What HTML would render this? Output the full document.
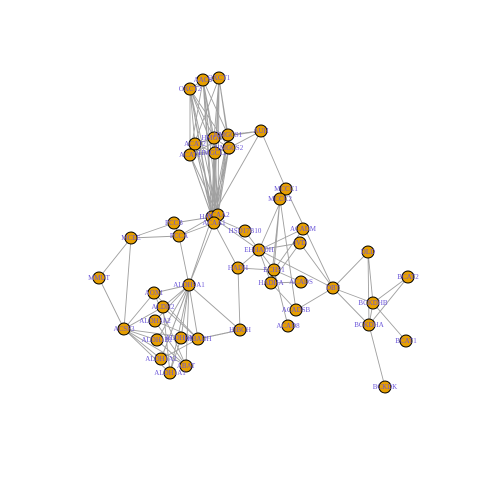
<!DOCTYPE html>
<html><head><meta charset="utf-8"><style>
html,body{margin:0;padding:0;background:#fff;width:480px;height:480px;overflow:hidden}
svg text{font-family:"Liberation Serif",serif;font-size:7px;fill:#6a55d8;text-anchor:middle;dominant-baseline:central}
</style></head><body>
<svg id="net" width="480" height="480" viewBox="0 0 480 480">
<g id="edges"></g>
<g id="nodes"></g>
</svg>
<script>
const names=["AACS","OXCT1","OXCT2","AUH","HMGCL","HMGCS1","ACAT2","ACAT1","HMGCLL1","HMGCS2","HADHB","ACAA2","ACAA1","HSD17B10","PCCB","PCCA","MCEE","MMUT","ALDH9A1","AOX1","ALDH2","ALDH3A2","ACSF3","ALDH1B1","ALDH6A1","HIBADH","ALDH1A2","ABAT","ALDH1A1","HIBCH","HADH","MCCC1","MCCC2","ACADM","IVD","EHHADH","ECHS1","HADHA","ACADS","DBT","DLD","BCAT2","BCKDHB","BCKDHA","BCAT1","BCKDK","ACADSB","ACAD8"];
const xs=[203,219,190,261,214,228,195,190,215,229,212,218,214,245,174,179,131,99,189,154,163,155,124,157,181,198,161,186,170,240,238,286,280,303,300,259,274,271,301,333,368,408,373,369,406,385,296,288];
const ys=[80,78,89,131,138,135,144,155,153,148,217,215,223,231,223,236,238,278,285,293,307,321,329,340,338,339,359,366,373,330,268,189,199,229,243,250,270,283,282,288,252,277,303,325,341,387,310,326];
const edgeFrom=["AACS","AACS","AACS","AACS","AACS","AACS","OXCT1","OXCT1","OXCT1","OXCT1","OXCT1","OXCT2","OXCT2","OXCT2","OXCT2","OXCT2","AUH","AUH","AUH","AUH","HMGCL","HMGCL","HMGCL","HMGCL","HMGCS1","HMGCS1","HMGCS1","ACAT2","ACAT2","ACAT2","ACAT1","ACAT1","ACAT1","HMGCLL1","HMGCLL1","HMGCS2","HMGCS2","HADHB","HADHB","HADHB","HADHB","HADHB","HADHB","ACAA1","ACAA1","ACAA1","PCCB","PCCB","PCCA","PCCA","PCCA","MCEE","MCEE","MMUT","ALDH9A1","ALDH9A1","ALDH9A1","ALDH9A1","ALDH9A1","ALDH9A1","ALDH9A1","ALDH9A1","ALDH9A1","ACSF3","ACSF3","ACSF3","ACSF3","ACSF3","AOX1","AOX1","ALDH2","ALDH2","ALDH3A2","ALDH3A2","ALDH1B1","ALDH6A1","HIBADH","HIBADH","MCCC1","MCCC1","MCCC1","MCCC2","MCCC2","MCCC2","EHHADH","EHHADH","EHHADH","EHHADH","EHHADH","HADH","ECHS1","ECHS1","ECHS1","HADHA","HADHA","DBT","DBT","DBT","DBT","DBT","DLD","DLD","BCKDHB","BCKDHB","BCKDHB","BCKDHA","BCKDHA","ACADM","IVD","HSD17B10","HIBCH",
"AACS","AACS","OXCT1","OXCT1","OXCT2","OXCT2","OXCT2","HMGCL","HMGCL","HMGCS1","HMGCS1","HMGCS1","ACAT2","ACAT2","ACAT1","ACAT1","HMGCLL1","HMGCLL1","HMGCS2","HMGCS2","HMGCS2","AUH","AUH","AACS","OXCT1","ACAT2","HMGCL","ALDH9A1","ALDH9A1","ACSF3","ACSF3","HIBCH","EHHADH"];
const edgeTo=["OXCT1","OXCT2","HMGCL","HMGCS1","ACAT1","HADHB","OXCT2","HMGCS1","HMGCS2","HMGCL","ACAA2","HMGCL","ACAT2","ACAT1","HMGCS2","HMGCLL1","HMGCS1","HMGCS2","HMGCL","MCCC1","HMGCS1","ACAT2","HADHB","HMGCLL1","HMGCS2","ACAT2","ACAA2","ACAT1","HMGCLL1","HADHB","HMGCLL1","HADHB","ACAA1","HMGCS2","ACAA1","HADHB","ACAA2","ACAA2","ACAA1","PCCB","HSD17B10","EHHADH","ALDH9A1","PCCA","ALDH9A1","HADH","PCCA","MCEE","MCEE","ALDH9A1","HADHB","MMUT","ACSF3","ACSF3","AOX1","ALDH2","ALDH3A2","ALDH1B1","ALDH6A1","HIBADH","ALDH1A2","ABAT","ALDH1A1","AOX1","ALDH2","ALDH1B1","HIBADH","ALDH1A1","HIBADH","ABAT","ALDH1A1","HIBADH","HIBADH","ABAT","ABAT","ALDH1A1","HIBCH","ALDH1A2","MCCC2","EHHADH","DBT","HADHA","ECHS1","ACADSB","ECHS1","HADHA","ACADM","IVD","HADH","ECHS1","HADHA","ACADS","ACAD8","ACADSB","ACADS","DLD","BCKDHB","BCKDHA","ACADSB","IVD","BCKDHB","BCKDHA","BCAT2","BCKDHA","BCAT1","BCAT2","BCKDK","ECHS1","HADHA","EHHADH","HIBADH",
"ACAA2","ACAA1","HADHB","ACAA1","HADHB","ACAA2","ACAA1","ACAA2","ACAA1","HADHB","ACAA1","ACAT1","ACAA2","ACAA1","ACAA2","HMGCS1","HADHB","ACAA2","HADHB","ACAA1","ACAT1","HADHB","HMGCS1","HMGCLL1","ACAT1","HMGCL","HMGCS2","ALDH1A2","HIBCH","ALDH1A2","ABAT","HADH","DBT"];
const NS="http://www.w3.org/2000/svg";
const gE=document.getElementById('edges'),gN=document.getElementById('nodes');
const idx=n=>names.indexOf(n);
const px=i=>xs[i], py=i=>ys[i];
for(let k=0;k<edgeFrom.length;k++){
  const a=idx(edgeFrom[k]),b=idx(edgeTo[k]);if(a<0||b<0)continue;
  const l=document.createElementNS(NS,'line');
  l.setAttribute('x1',px(a));l.setAttribute('y1',py(a));l.setAttribute('x2',px(b));l.setAttribute('y2',py(b));
  l.setAttribute('stroke','#a0a0a0');l.setAttribute('stroke-width','0.9');
  
  
  gE.appendChild(l);
}
names.forEach((n,i)=>{
  const g=document.createElementNS(NS,'g');
  
  
  const c=document.createElementNS(NS,'circle');
  c.setAttribute('cx',px(i));c.setAttribute('cy',py(i));c.setAttribute('r',6);
  c.setAttribute('fill','#E69F00');c.setAttribute('stroke','#000');c.setAttribute('stroke-width','1');
  const t=document.createElementNS(NS,'text');
  t.setAttribute('x',px(i));t.setAttribute('y',py(i));t.textContent=n;
  
  
  g.appendChild(c);g.appendChild(t);gN.appendChild(g);
});
</script>
</body></html>
